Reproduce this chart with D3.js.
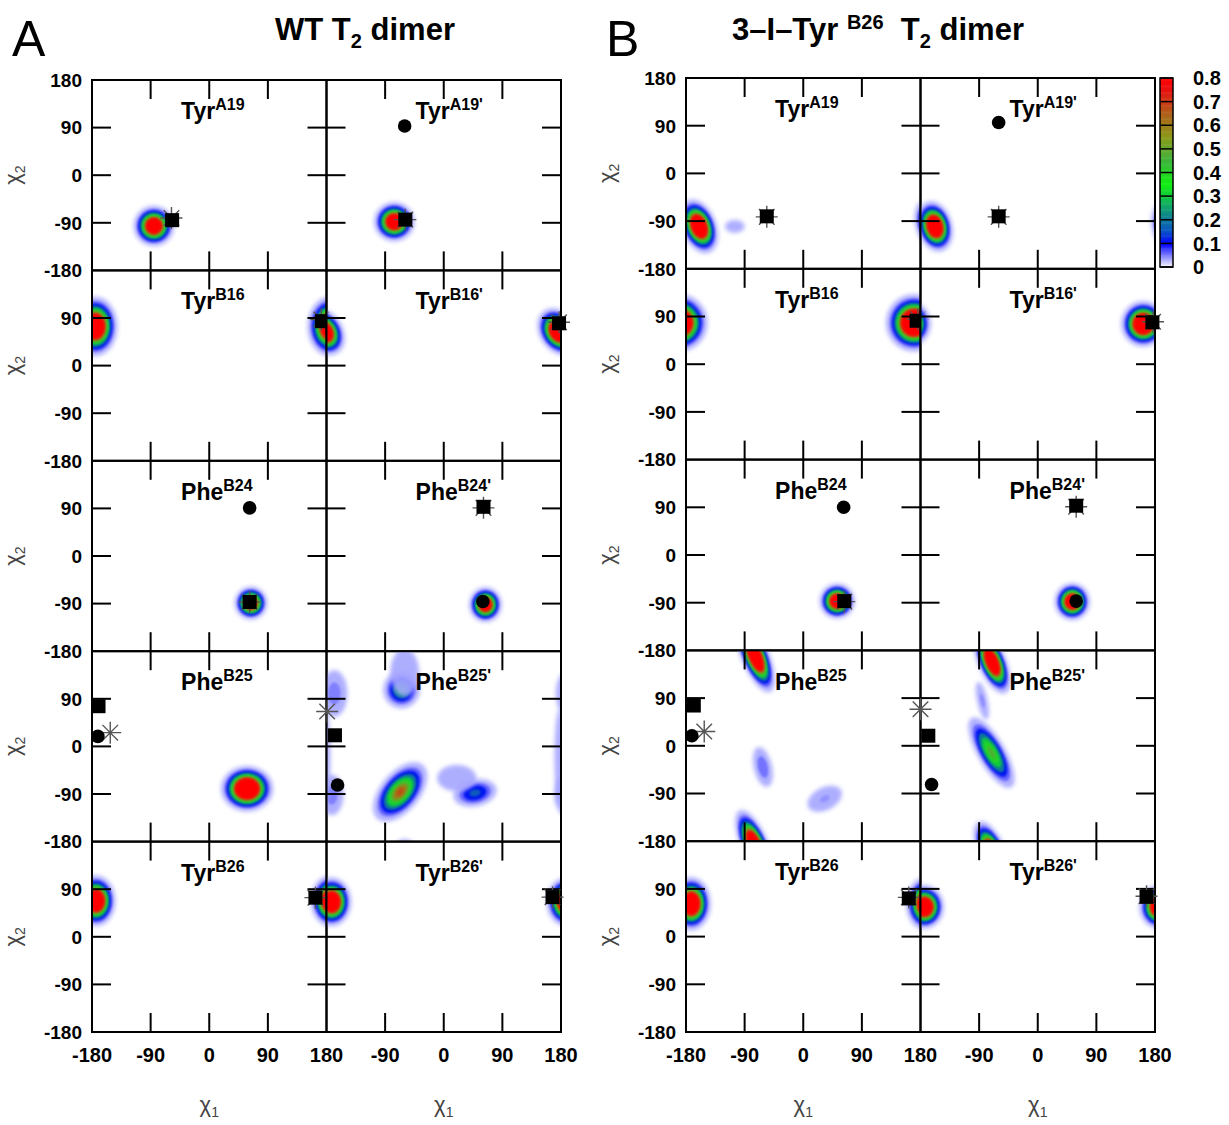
<!DOCTYPE html>
<meta charset="utf-8">
<script src="https://d3js.org/d3.v7.min.js"></script>
<style>
  body { margin: 0; background: #fff; }
  svg text { font-family: "Liberation Sans", Arial, sans-serif; white-space: pre; }
</style>
<div id="chart"></div>
<script>

// residues, one per row (right column = primed chain)
var rowNames = ["Tyr", "Tyr", "Phe", "Phe", "Tyr"];
var rowSup = ["A19", "B16", "B24", "B25", "B26"];
var yTicks = [-180, -90, 0, 90, 180];
var innerTicks = [-90, 0, 90];

// colour bar
var cbTicks = [0, 0.1, 0.2, 0.3, 0.4, 0.5, 0.6, 0.7, 0.8];
var cbStops = [0, 0.1, 0.15, 0.25, 0.35, 0.45, 0.55, 0.65, 0.75, 0.8];
var cbColors = ["#ffffff", "#0000ff", "#0a50c8", "#10a070", "#10f010", "#3cb43c", "#8a9a18", "#b0601a", "#e81010", "#ff0000"];

// density clusters: [row, col, chi1, chi2, semi-axis a, semi-axis b, tilt of a (deg), peak]
var blobsA = [
  [0, 0, -85, -96, 31, 38, 0, 1.5],
  [0, 1, -76, -88, 31, 37, 0, 1.5],
  [1, 0, -175, 74, 34, 56, 0, 1.8],
  [1, 1, 176, 64, 30, 46, 20, 1.8],
  [2, 0, 64, -89, 25, 31, 0, 1.3],
  [2, 1, 64, -92, 25, 33, 0, 1.4],
  [3, 0, 58, -80, 40, 43, 0, 2.2],
  [3, 1, -65, 107, 28, 35, 0, 0.3],
  [3, 1, -60, 140, 22, 45, 0, 0.035],
  [3, 1, -67, -86, 62, 32, 60, 0.7],
  [3, 1, 48, -88, 34, 25, 20, 0.18],
  [3, 1, -172, -92, 18, 38, 0, 0.06],
  [3, 1, -168, 100, 20, 44, 0, 0.06],
  [3, 1, 178, -20, 8, 90, 0, 0.04],
  [3, 1, 20, -60, 30, 25, 0, 0.02],
  [4, 0, -174, 68, 30, 48, 0, 1.8],
  [4, 1, -172, 66, 30, 46, 0, 1.8]
];
var blobsB = [
  [0, 0, -160, -100, 52, 27, -75, 1.8],
  [0, 0, -105, -100, 15, 12, 0, 0.03],
  [0, 1, -158, -100, 48, 27, -80, 1.8],
  [1, 0, 170, 78, 43, 54, 0, 2.2],
  [1, 1, 162, 76, 34, 43, 0, 2],
  [2, 0, 52, -87, 27, 33, 0, 1.5],
  [2, 1, 53, -88, 27, 35, 0, 1.5],
  [3, 0, -74, 170, 72, 22, -72, 1.8],
  [3, 0, -62, -40, 38, 14, -80, 0.07],
  [3, 0, 33, -100, 30, 20, 40, 0.045],
  [3, 1, -70, 158, 62, 22, -72, 1.6],
  [3, 1, -71, -13, 72, 22, -66, 0.5],
  [3, 1, -85, 85, 36, 8, -80, 0.05],
  [4, 0, -172, 62, 30, 50, 0, 1.8],
  [4, 1, -174, 56, 30, 41, 0, 1.8]
];

// reference structures: [row, col, chi1, chi2]
var circlesA = [[0, 1, -60, 93], [2, 0, 62, 91], [2, 1, 60, -86], [3, 0, -171, 19], [3, 1, -163, -73]];
var squaresA = [[0, 0, -57, -85], [0, 1, -59, -84], [1, 0, 173, 84], [1, 1, 177, 80], [2, 0, 62, -87],
                [2, 1, 61, 93], [3, 0, -170, 76], [3, 1, -167, 21], [4, 0, 163, 74], [4, 1, 167, 75]];
var starsA = [[0, 0, -58, -81], [0, 1, -59, -84], [1, 0, 172, 87], [1, 1, 177, 82], [2, 0, 62, -87],
              [2, 1, 61, 91], [3, 0, -152, 26], [3, 1, -179, 66], [4, 0, 163, 74], [4, 1, 167, 75]];

var circlesB = [[0, 1, -60, 96], [2, 0, 62, 90], [2, 1, 59, -87], [3, 0, -171, 19], [3, 1, -163, -73]];
var squaresB = [[0, 0, -56, -81], [0, 1, -60, -81], [1, 0, 174, 82], [1, 1, 176, 79], [2, 0, 63, -87],
                [2, 1, 59, 93], [3, 0, -168, 76], [3, 1, -168, 19], [4, 0, 162, 72], [4, 1, 167, 75]];
var starsB = [[0, 0, -56, -82], [0, 1, -60, -82], [1, 0, 176, 85], [1, 1, 177, 80], [2, 0, 63, -88],
              [2, 1, 59, 91], [3, 0, -152, 27], [3, 1, -180, 69], [4, 0, 162, 74], [4, 1, 167, 76]];

var W = 1229, H = 1125;
var svg = d3.select("#chart").append("svg").attr("width", W).attr("height", H);
var defs = svg.append("defs");
defs.append("filter").attr("id", "halo").attr("x", "-50%").attr("y", "-50%").attr("width", "200%").attr("height", "200%")
  .append("feGaussianBlur").attr("stdDeviation", 2.2);
defs.append("filter").attr("id", "soft").attr("x", "-20%").attr("y", "-20%").attr("width", "140%").attr("height", "140%")
  .append("feGaussianBlur").attr("stdDeviation", 0.8);

var color = d3.scaleLinear().domain(cbStops).range(cbColors).interpolate(d3.interpolateRgb);

// contour levels used to draw each cluster
var levels = [0.01, 0.04, 0.08, 0.15, 0.25, 0.35, 0.45, 0.55, 0.65, 0.72];

function ellipsePts(cx, cy, a, b, tilt, f) {
  var th = tilt * Math.PI / 180, pts = [];
  for (var i = 0; i < 64; i++) {
    var t = i / 64 * 2 * Math.PI;
    var u = a * f * Math.cos(t), v = b * f * Math.sin(t);
    pts.push([cx + u * Math.cos(th) - v * Math.sin(th), cy + u * Math.sin(th) + v * Math.cos(th)]);
  }
  return pts;
}

function drawPanel(P) {
  var tl = 19;
  var g = svg.append("g");

  for (var r = 0; r < 5; r++) {
    for (var c = 0; c < 2; c++) {
      var x = d3.scaleLinear().domain([-180, 180]).range([P.left + c * P.colW, P.left + (c + 1) * P.colW]);
      var y = d3.scaleLinear().domain([-180, 180]).range([P.top + (r + 1) * P.rowH, P.top + r * P.rowH]);
      var id = "clip" + P.name + r + c;
      defs.append("clipPath").attr("id", id).append("rect")
        .attr("x", x(-180)).attr("y", y(180)).attr("width", x(180) - x(-180)).attr("height", y(-180) - y(180));

      var cell = g.append("g").attr("clip-path", "url(#" + id + ")");
      var line = d3.line().x(function(d) { return x(d[0]); }).y(function(d) { return y(d[1]); })
        .curve(d3.curveLinearClosed);

      // angles are periodic, so each cluster is also drawn shifted by 360 and clipped
      P.blobs.filter(function(b) { return b[0] === r && b[1] === c; }).forEach(function(b) {
        [-360, 0, 360].forEach(function(ox) {
          [-360, 0, 360].forEach(function(oy) {
            var peak = b[7];
            levels.forEach(function(L, i) {
              if (L >= peak) return;
              var f = Math.sqrt(Math.log(peak / L) / Math.log(peak / levels[0]));
              var next = i < levels.length - 1 ? levels[i + 1] : 0.8;
              var v = i === 0 ? 0.035 : (i < levels.length - 1 ? (L + next) / 2 : 0.8);
              if (i > 0 && peak < next) v = (L + peak) / 2;
              cell.append("path")
                .attr("d", line(ellipsePts(b[2] + ox, b[3] + oy, b[4], b[5], b[6], f)))
                .attr("fill", color(v))
                .attr("opacity", i === 0 ? 0.9 : 1)
                .attr("filter", i === 0 ? "url(#halo)" : "url(#soft)");
            });
          });
        });
      });

      // frame and inward ticks
      g.append("rect")
        .attr("x", x(-180)).attr("y", y(180)).attr("width", x(180) - x(-180)).attr("height", y(-180) - y(180))
        .attr("fill", "none").attr("stroke", "#000").attr("stroke-width", 2);
      innerTicks.forEach(function(v) {
        [[x(v), y(180), x(v), y(180) + tl], [x(v), y(-180), x(v), y(-180) - tl],
         [x(-180), y(v), x(-180) + tl, y(v)], [x(180), y(v), x(180) - tl, y(v)]].forEach(function(s) {
          g.append("line").attr("x1", s[0]).attr("y1", s[1]).attr("x2", s[2]).attr("y2", s[3])
            .attr("stroke", "#000").attr("stroke-width", 2);
        });
      });

      // residue label
      var lab = g.append("text")
        .attr("x", P.left + c * P.colW + 0.38 * P.colW)
        .attr("y", P.top + r * P.rowH + 0.205 * P.rowH)
        .attr("font-size", 23).attr("font-weight", "bold").text(rowNames[r]);
      lab.append("tspan").attr("font-size", 16).attr("dy", -9).text(rowSup[r] + (c === 1 ? "'" : ""));

      // markers
      var mk = g.append("g");
      P.stars.filter(function(m) { return m[0] === r && m[1] === c; }).forEach(function(m) {
        var cx = x(m[2]), cy = y(m[3]), R = 11, d = R * Math.SQRT1_2;
        mk.append("path")
          .attr("d", "M" + (cx - R) + "," + cy + "H" + (cx + R) + "M" + cx + "," + (cy - R) + "V" + (cy + R) +
            "M" + (cx - d) + "," + (cy - d) + "L" + (cx + d) + "," + (cy + d) +
            "M" + (cx - d) + "," + (cy + d) + "L" + (cx + d) + "," + (cy - d))
          .attr("stroke", "#555").attr("stroke-width", 1.4).attr("fill", "none");
      });
      P.squares.filter(function(m) { return m[0] === r && m[1] === c; }).forEach(function(m) {
        mk.append("rect").attr("x", x(m[2]) - 7).attr("y", y(m[3]) - 7)
          .attr("width", 14).attr("height", 14).attr("fill", "#000");
      });
      P.circles.filter(function(m) { return m[0] === r && m[1] === c; }).forEach(function(m) {
        mk.append("circle").attr("cx", x(m[2])).attr("cy", y(m[3])).attr("r", 6.8).attr("fill", "#000");
      });

      // y tick labels on the left column
      if (c === 0) {
        var yt = r === 0 ? yTicks : yTicks.slice(0, 4);
        yt.forEach(function(v) {
          g.append("text").attr("x", x(-180) - 10).attr("y", y(v)).attr("dy", "0.36em")
            .attr("text-anchor", "end").attr("font-size", 19).attr("font-weight", "bold").text(v);
        });
        var yl = g.append("text")
          .attr("transform", "translate(" + (P.left - 72) + "," + y(0) + ") rotate(-90)")
          .attr("text-anchor", "middle").attr("font-size", 22).attr("fill", "#444").text("\u03c7");
        yl.append("tspan").attr("font-size", 14).attr("dy", 5).text("2");
      }
      // x tick labels on the bottom row
      if (r === 4) {
        var xt = c === 0 ? yTicks : yTicks.slice(1);
        xt.forEach(function(v) {
          g.append("text").attr("x", x(v)).attr("y", y(-180) + 30)
            .attr("text-anchor", "middle").attr("font-size", 20).attr("font-weight", "bold").text(v);
        });
        var xl = g.append("text").attr("x", x(0)).attr("y", y(-180) + 80)
          .attr("text-anchor", "middle").attr("font-size", 22).attr("fill", "#444").text("\u03c7");
        xl.append("tspan").attr("font-size", 14).attr("dy", 5).text("1");
      }
    }
  }

  // panel letter
  svg.append("text").attr("x", P.left - 80).attr("y", 56).attr("font-size", 50).text(P.name);
}

drawPanel({name: "A", left: 92, top: 80, colW: 234.5, rowH: 190.4,
  blobs: blobsA, circles: circlesA, squares: squaresA, stars: starsA});
drawPanel({name: "B", left: 686, top: 78, colW: 234.5, rowH: 190.8,
  blobs: blobsB, circles: circlesB, squares: squaresB, stars: starsB});

// titles
var tA = svg.append("text").attr("x", 365).attr("y", 40).attr("text-anchor", "middle")
  .attr("font-size", 31).attr("font-weight", "bold").text("WT T");
tA.append("tspan").attr("font-size", 20).attr("dy", 8).text("2");
tA.append("tspan").attr("dy", -8).text(" dimer");

var tB = svg.append("text").attr("x", 878).attr("y", 40).attr("text-anchor", "middle")
  .attr("font-size", 31).attr("font-weight", "bold").text("3\u2013I\u2013Tyr ");
tB.append("tspan").attr("font-size", 20).attr("dy", -11).text("B26");
tB.append("tspan").attr("dy", 11).text("  T");
tB.append("tspan").attr("font-size", 20).attr("dy", 8).text("2");
tB.append("tspan").attr("dy", -8).text(" dimer");

// colour bar
var cbY = d3.scaleLinear().domain([0, 0.8]).range([267, 78]);
var cb = svg.append("g");
d3.range(0, 0.8, 0.005).forEach(function(v) {
  cb.append("rect").attr("x", 1160).attr("y", cbY(v + 0.005)).attr("width", 13)
    .attr("height", cbY(v) - cbY(v + 0.005) + 0.5).attr("fill", color(v + 0.0025));
});
cbTicks.forEach(function(v) {
  cb.append("line").attr("x1", 1160).attr("x2", 1173).attr("y1", cbY(v)).attr("y2", cbY(v))
    .attr("stroke", "#000").attr("stroke-width", 1.5);
  cb.append("text").attr("x", 1193).attr("y", cbY(v)).attr("dy", "0.36em")
    .attr("font-size", 20).attr("font-weight", "bold").text(v);
});
cb.append("rect").attr("x", 1160).attr("y", 78).attr("width", 13).attr("height", 189)
  .attr("fill", "none").attr("stroke", "#000").attr("stroke-width", 1.5);

</script>
